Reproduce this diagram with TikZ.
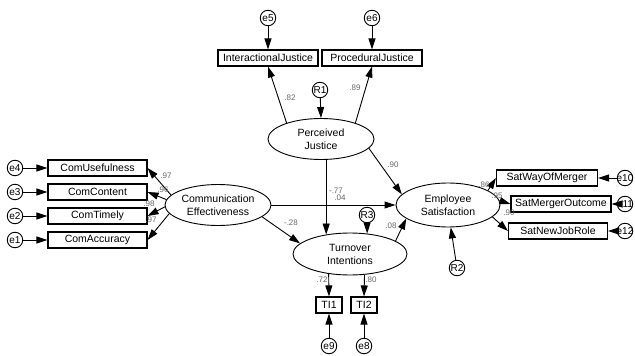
\documentclass[tikz,border=0pt]{standalone}
\usepackage{fontspec}
\setmainfont{Liberation Sans}
\usetikzlibrary{shapes.geometric,arrows.meta}
\begin{document}
\begin{tikzpicture}[x=1pt,y=-1pt,
  obs/.style={draw, rectangle, line width=1.1pt, minimum height=16pt, inner sep=0pt,
    font=\fontsize{10.5}{12}\selectfont},
  lat/.style={draw, ellipse, line width=0.9pt, inner sep=0pt, align=center,
    minimum width=106pt, minimum height=41pt, font=\fontsize{10.5}{13}\selectfont},
  errc/.style={draw, circle, line width=0.9pt, minimum size=15.5pt, inner sep=0pt,
    font=\fontsize{10}{12}\selectfont},
  arr/.style={line width=0.9pt, -{Triangle[length=11pt,width=7pt]}},
  coef/.style={font=\fontsize{8}{9}\selectfont, text=black!60, inner sep=0pt}]
\useasboundingbox (0,0) rectangle (635,356);

% latent variables
\node[lat] (pj) at (321,139) {Perceived\\Justice};
\node[lat] (ce) at (218,205) {Communication\\Effectiveness};
\node[lat, minimum width=104pt, minimum height=44pt] (es) at (448,205) {Employee\\Satisfaction};
\node[lat, minimum width=114pt, minimum height=42pt] (ti) at (350,254) {Turnover\\Intentions};

% indicators of perceived justice
\node[obs, minimum width=100pt] (ij) at (268,58) {InteractionalJustice};
\node[obs, minimum width=100pt] (prj) at (372,58) {ProceduralJustice};
\node[errc] (e5) at (268,18) {\makebox[0pt]{e5}};
\node[errc] (e6) at (372,18) {\makebox[0pt]{e6}};
\node[errc] (r1) at (320,90) {\makebox[0pt]{R1}};

% indicators of communication effectiveness
\node[obs, minimum width=99pt] (cu) at (97.5,168) {ComUsefulness};
\node[obs, minimum width=99pt] (cc) at (97.5,192) {ComContent};
\node[obs, minimum width=99pt] (ct) at (97.5,216) {ComTimely};
\node[obs, minimum width=99pt] (ca) at (97.5,240) {ComAccuracy};
\node[errc] (e4) at (15,168) {\makebox[0pt]{e4}};
\node[errc] (e3) at (15,192) {\makebox[0pt]{e3}};
\node[errc] (e2) at (15,216) {\makebox[0pt]{e2}};
\node[errc] (e1) at (15,240) {\makebox[0pt]{e1}};

% indicators of employee satisfaction
\node[obs, minimum width=101pt] (sw) at (547,178) {SatWayOfMerger};
\node[obs, minimum width=100pt] (smo) at (561,204) {SatMergerOutcome};
\node[obs, minimum width=99pt] (snj) at (558,231) {SatNewJobRole};
\node[errc] (e10) at (625,178) {\makebox[0pt]{e10}};
\node[errc] (e11) at (625,204) {\makebox[0pt]{e11}};
\node[errc] (e12) at (625,231) {\makebox[0pt]{e12}};
\node[errc] (r2) at (457,268) {\makebox[0pt]{R2}};

% indicators of turnover intentions
\node[obs, minimum width=26pt] (ti1) at (329,305) {TI1};
\node[obs, minimum width=26pt] (ti2) at (364,305) {TI2};
\node[errc] (e9) at (329,346) {\makebox[0pt]{e9}};
\node[errc] (e8) at (364,346) {\makebox[0pt]{e8}};
\node[errc] (r3) at (367,215) {\makebox[0pt]{R3}};

% error terms
\draw[arr] (e5) -- (ij.north);
\draw[arr] (e6) -- (prj.north);
\draw[arr] (r1) -- (pj.north);
\draw[arr] (e4) -- (cu.west);
\draw[arr] (e3) -- (cc.west);
\draw[arr] (e2) -- (ct.west);
\draw[arr] (e1) -- (ca.west);
\draw[arr] (e10) -- (sw.east);
\draw[arr] (e11) -- (smo.east);
\draw[arr] (e12) -- (snj.east);
\draw[arr] (r2) -- (es.-83);
\draw[arr] (e9) -- (ti1.south);
\draw[arr] (e8) -- (ti2.south);
\draw[arr] (r3) -- (ti.50);

% loadings
\draw[arr] (pj.155) -- (ij.south);
\draw[arr] (pj.25) -- (prj.south);
\draw[arr] (ce.168) -- (cu.east);
\draw[arr] (ce.174) -- (cc.east);
\draw[arr] (ce.182) -- (ct.east);
\draw[arr] (ce.190) -- (ca.east);
\draw[arr] (es.20) -- (sw.west);
\draw[arr] (es.5) -- (smo.west);
\draw[arr] (es.-15) -- (snj.west);
\draw[arr] (ti.-137) -- (ti1.north);
\draw[arr] (ti.-55.5) -- (ti2.north);

% structural paths
\draw[arr] (pj.-11) -- (es.167);
\draw[arr] (pj.-76) -- (pj.-76 |- ti.141.6);
\draw[arr] (ce) -- (es);
\draw[arr] (ce.-15) -- (ti.168);
\draw[arr] (ti.16) -- (es.198);

% coefficients
\node[coef] (k1) at (290,98) {.82};
\node[coef] (k2) at (355,88) {.89};
\node[coef] (k3) at (393,165) {.90};
\node[coef] (k4) at (166,176) {.97};
\node[coef] (k5) at (163,190) {.96};
\node[coef] (k6) at (149,204) {.98};
\node[coef] (k7) at (151,220) {.97};
\node[coef] (k8) at (336,191) {-.77};
\node[coef] (k9) at (340,198) {.04};
\node[coef] (k10) at (291,223) {-.28};
\node[coef] (k11) at (391,226) {.08};
\node[coef] (k12) at (484,185) {.86};
\node[coef] (k13) at (497,196) {.95};
\node[coef] (k14) at (509,213) {.90};
\node[coef] (k15) at (322,280) {.72};
\node[coef] (k16) at (371,280) {.80};
\end{tikzpicture}
\end{document}
